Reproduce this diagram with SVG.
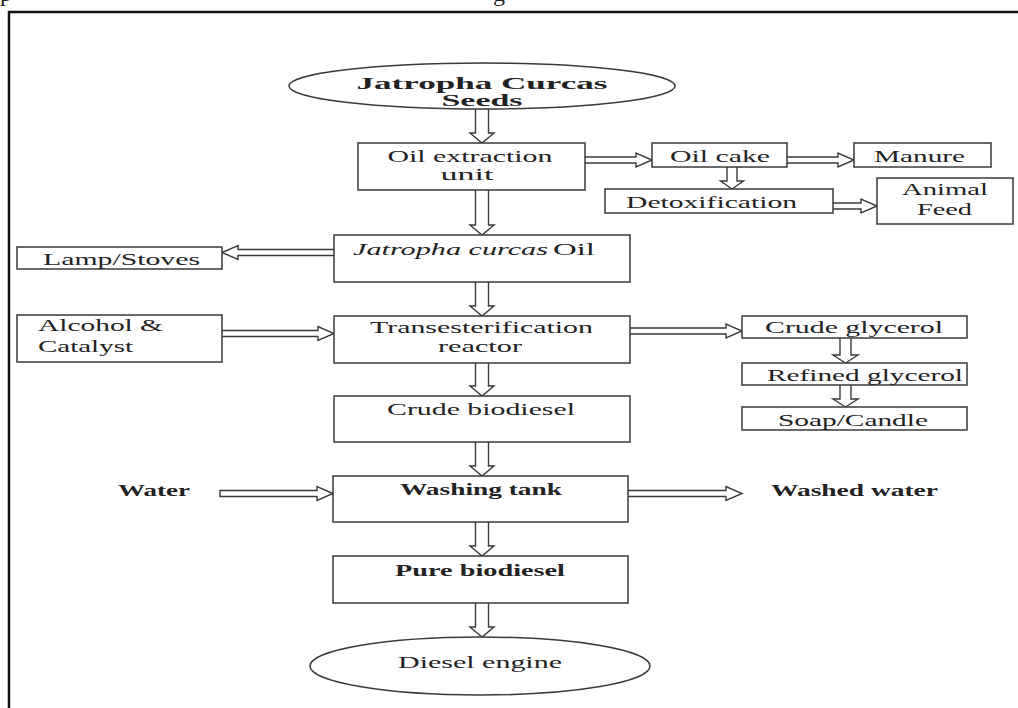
<svg xmlns="http://www.w3.org/2000/svg" width="1018" height="708" viewBox="0 0 1018 708">
<style>
  .box { fill: #fff; stroke: #3a3a3a; stroke-width: 1.5; }
  .oval { fill: #fff; stroke: #3a3a3a; stroke-width: 1.5; }
  .arr { fill: #fff; stroke: #3a3a3a; stroke-width: 1.4; stroke-linejoin: miter; }
  .t { font-family: "Liberation Serif", "Times New Roman", serif; font-size: 17px; fill: #222; }
  .b { font-weight: bold; }
  .i { font-style: italic; }
  .m { text-anchor: middle; }
</style>
<rect x="0" y="0" width="1018" height="708" fill="#fff"/>
<text x="0" y="1" class="t" style="font-size:24px">p</text>
<text x="493" y="1" class="t" style="font-size:24px">g</text>
<path d="M9 720 V12 H1030" fill="none" stroke="#111" stroke-width="2.5"/>

<g id="connectors">
  <path class="arr" d="M475.5 109 V133 H470 L482 143 L494 133 H488.5 V109"/>
  <path class="arr" d="M475.5 190 V225 H470 L482 235 L494 225 H488.5 V190"/>
  <path class="arr" d="M475.5 282 V306 H470 L482 316 L494 306 H488.5 V282"/>
  <path class="arr" d="M475.5 363 V386 H470 L482 396 L494 386 H488.5 V363"/>
  <path class="arr" d="M475.5 442 V466 H470 L482 476 L494 466 H488.5 V442"/>
  <path class="arr" d="M475.5 522 V546 H470 L482 556 L494 546 H488.5 V522"/>
  <path class="arr" d="M475.5 603 V627 H470 L482 637 L494 627 H488.5 V603"/>
  <path class="arr" d="M727 167 V181 H720.5 L732 189 L743.5 181 H737 V167"/>
  <path class="arr" d="M840 338 V355 H833 L845.5 363 L858 355 H851 V338"/>
  <path class="arr" d="M840 385 V399 H833 L845.5 407 L858 399 H851 V385"/>
  <path class="arr" d="M585 157 H636 V153 L652 160 L636 167 V163 H585"/>
  <path class="arr" d="M787 157 H838 V153 L854 160 L838 167 V163 H787"/>
  <path class="arr" d="M833 203 H861 V199 L877 206 L861 213 V209 H833"/>
  <path class="arr" d="M334 249.5 H238 V245.5 L222 252.5 L238 259.5 V255.5 H334"/>
  <path class="arr" d="M222 330.5 H318 V326.5 L334 333.5 L318 340.5 V336.5 H222"/>
  <path class="arr" d="M630 328 H726 V324 L742 331 L726 338 V334 H630"/>
  <path class="arr" d="M220 490.5 H317 V486.5 L333 493.5 L317 500.5 V496.5 H220 Z"/>
  <path class="arr" d="M628 490.5 H726 V486.5 L742 493.5 L726 500.5 V496.5 H628"/>
</g>

<g id="seeds">
  <ellipse class="oval" cx="482" cy="86" rx="193" ry="23"/>
  <text class="t b m" x="482" y="89" style="font-size:17px" textLength="251" lengthAdjust="spacingAndGlyphs">Jatropha Curcas</text>
  <text class="t b m" x="482" y="106" style="font-size:17px" textLength="81" lengthAdjust="spacingAndGlyphs">Seeds</text>
</g>
<g id="oil-extraction">
  <rect class="box" x="358" y="143" width="227" height="47"/>
  <text class="t m" x="470" y="162" textLength="165" lengthAdjust="spacingAndGlyphs">Oil extraction</text>
  <text class="t m" x="467" y="180" textLength="53" lengthAdjust="spacingAndGlyphs">unit</text>
</g>
<g id="oil-cake">
  <rect class="box" x="652" y="143" width="135" height="24"/>
  <text class="t m" x="720" y="162" textLength="100" lengthAdjust="spacingAndGlyphs">Oil cake</text>
</g>
<g id="manure">
  <rect class="box" x="854" y="143" width="137" height="24"/>
  <text class="t m" x="919.5" y="162" textLength="91" lengthAdjust="spacingAndGlyphs">Manure</text>
</g>
<g id="detoxification">
  <rect class="box" x="605" y="189" width="228" height="24"/>
  <text class="t m" x="711.5" y="208" textLength="171" lengthAdjust="spacingAndGlyphs">Detoxification</text>
</g>
<g id="animal-feed">
  <rect class="box" x="877" y="178" width="136" height="46"/>
  <text class="t m" x="945" y="195" textLength="86" lengthAdjust="spacingAndGlyphs">Animal</text>
  <text class="t m" x="944.5" y="215" textLength="55" lengthAdjust="spacingAndGlyphs">Feed</text>
</g>
<g id="jatropha-oil">
  <rect class="box" x="334" y="235" width="296" height="47"/>
  <text class="t i" x="353" y="255" textLength="195" lengthAdjust="spacingAndGlyphs">Jatropha curcas</text>
  <text class="t" x="553" y="255" textLength="42" lengthAdjust="spacingAndGlyphs">Oil</text>
</g>
<g id="lamp-stoves">
  <rect class="box" x="17" y="247" width="205" height="22"/>
  <text class="t" x="43" y="265" textLength="157" lengthAdjust="spacingAndGlyphs">Lamp/Stoves</text>
</g>
<g id="alcohol-catalyst">
  <rect class="box" x="17" y="315" width="205" height="47"/>
  <text class="t" x="38" y="331" textLength="125" lengthAdjust="spacingAndGlyphs">Alcohol &amp;</text>
  <text class="t" x="38" y="352" textLength="95" lengthAdjust="spacingAndGlyphs">Catalyst</text>
</g>
<g id="transesterification">
  <rect class="box" x="334" y="316" width="296" height="47"/>
  <text class="t m" x="481.5" y="333" textLength="223" lengthAdjust="spacingAndGlyphs">Transesterification</text>
  <text class="t m" x="480" y="352" textLength="84" lengthAdjust="spacingAndGlyphs">reactor</text>
</g>
<g id="crude-glycerol">
  <rect class="box" x="742" y="316" width="225" height="22"/>
  <text class="t m" x="854" y="333" textLength="178" lengthAdjust="spacingAndGlyphs">Crude glycerol</text>
</g>
<g id="refined-glycerol">
  <rect class="box" x="742" y="363" width="225" height="22"/>
  <text class="t m" x="865" y="381" textLength="196" lengthAdjust="spacingAndGlyphs">Refined glycerol</text>
</g>
<g id="soap-candle">
  <rect class="box" x="742" y="407" width="225" height="23"/>
  <text class="t m" x="853" y="426" textLength="150" lengthAdjust="spacingAndGlyphs">Soap/Candle</text>
</g>
<g id="crude-biodiesel">
  <rect class="box" x="334" y="396" width="296" height="46"/>
  <text class="t m" x="481" y="415" textLength="188" lengthAdjust="spacingAndGlyphs">Crude biodiesel</text>
</g>
<g id="water">
  <text class="t b" x="118" y="496" textLength="72" lengthAdjust="spacingAndGlyphs">Water</text>
</g>
<g id="washing-tank">
  <rect class="box" x="333" y="476" width="295" height="46"/>
  <text class="t b m" x="481" y="495" textLength="162" lengthAdjust="spacingAndGlyphs">Washing tank</text>
</g>
<g id="washed-water">
  <text class="t b" x="771" y="496" textLength="167" lengthAdjust="spacingAndGlyphs">Washed water</text>
</g>
<g id="pure-biodiesel">
  <rect class="box" x="333" y="556" width="295" height="47"/>
  <text class="t b m" x="480" y="576" textLength="170" lengthAdjust="spacingAndGlyphs">Pure biodiesel</text>
</g>
<g id="diesel-engine">
  <ellipse class="oval" cx="480" cy="666" rx="170" ry="29"/>
  <text class="t m" x="480" y="668" textLength="164" lengthAdjust="spacingAndGlyphs">Diesel engine</text>
</g>
</svg>
